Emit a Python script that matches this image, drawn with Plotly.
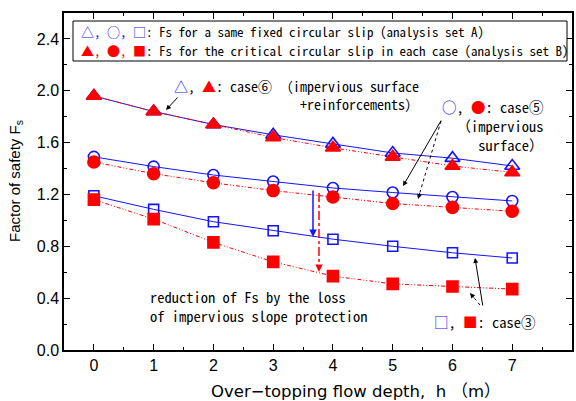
import math
import plotly.graph_objects as go

# ---------------- data ----------------
h = [0, 1, 2, 3, 4, 5, 6, 7]
case6_A = [1.96, 1.84, 1.74, 1.66, 1.59, 1.52, 1.48, 1.42]
case6_B = [1.96, 1.84, 1.74, 1.64, 1.56, 1.49, 1.42, 1.37]
case5_A = [1.49, 1.415, 1.35, 1.30, 1.25, 1.215, 1.18, 1.15]
case5_B = [1.45, 1.36, 1.29, 1.23, 1.18, 1.13, 1.10, 1.07]
case3_A = [1.19, 1.085, 0.99, 0.92, 0.855, 0.80, 0.75, 0.71]
case3_B = [1.16, 1.01, 0.83, 0.68, 0.57, 0.51, 0.49, 0.47]

x_ticks = [0, 1, 2, 3, 4, 5, 6, 7, 8]
y_ticks = [0.0, 0.4, 0.8, 1.2, 1.6, 2.0, 2.4]

BLUE = "rgb(20,20,255)"
RED = "rgb(255,0,0)"
JP = "Noto Sans Mono CJK JP, Noto Sans CJK JP"
AR = "Liberation Sans"

W, H = 576, 401
L, R, T, B = 64, 4, 13, 51
PW, PH = W - L - R, H - T - B


def px(x):
    return (x - L) / PW


def py(y):
    return (H - B - y) / PH


fig = go.Figure()

DASH_B = "4px,2px,1px,2px,1px,2px"
series = [
    (case6_A, "triangle-up-open", 13, BLUE, "solid"),
    (case5_A, "circle-open", 11, BLUE, "solid"),
    (case3_A, "square-open", 10, BLUE, "solid"),
    (case6_B, "triangle-up", 13, RED, DASH_B),
    (case5_B, "circle", 12, RED, DASH_B),
    (case3_B, "square", 11, RED, DASH_B),
]
for ys, sym, sz, col, dash in series:
    fig.add_trace(go.Scatter(
        x=h, y=ys, mode="lines+markers",
        line=dict(color=col, width=1, dash=dash),
        marker=dict(symbol=sym, size=sz, color=col,
                    line=dict(color=col, width=1.6)),
        showlegend=False, cliponaxis=False,
    ))

ann = []
shapes = []


def text(x, y, s, size=14, xanchor="left", align="left", font=JP):
    ann.append(dict(xref="paper", yref="paper", x=px(x), y=py(y), text=s,
                    showarrow=False, xanchor=xanchor, yanchor="middle",
                    align=align, font=dict(family=font, size=size, color="black")))


def arrow(hx, hy, tx, ty, color="black", width=1, size=1.0):
    ann.append(dict(xref="paper", yref="paper", x=px(hx), y=py(hy), text="",
                    showarrow=True, ax=tx - hx, ay=ty - hy, axref="pixel", ayref="pixel",
                    arrowhead=2, arrowsize=size, arrowwidth=width, arrowcolor=color,
                    standoff=0, startstandoff=0))


def dashed_arrow(hx, hy, tx, ty, color="black", width=1, dash="dot"):
    d = math.hypot(tx - hx, ty - hy)
    k = 7 / d
    sx, sy = hx + (tx - hx) * k, hy + (ty - hy) * k
    shapes.append(dict(type="line", xref="paper", yref="paper",
                       x0=px(tx), y0=py(ty), x1=px(sx), y1=py(sy),
                       line=dict(color=color, width=width, dash=dash)))
    arrow(hx, hy, hx + (tx - hx) * 8 / d, hy + (ty - hy) * 8 / d, color, width)


def b(s):
    return f"<span style='color:{BLUE}'>{s}</span>"


def r(s):
    return f"<span style='color:{RED}'>{s}</span>"


# legend box
shapes.append(dict(type="rect", xref="paper", yref="paper",
                   x0=px(73), x1=px(567), y0=py(61), y1=py(21),
                   line=dict(color="black", width=1), fillcolor="white"))
text(79, 32, b("△, ○, □") + ": Fs for a same fixed circular slip (analysis set A)", size=13)
text(79, 50, r("▲, ●, ■") + ": Fs for the critical circular slip in each case (analysis set B)", size=13)

# case 6
text(421, 95, b("△") + ", " + r("▲") + ": case⑥ （impervious surface<br>+reinforcements）",
     size=14, xanchor="right", align="right")
arrow(166, 110, 179, 96)

# case 5
text(546, 125, b("○") + ", " + r("●") + ": case⑤<br>（impervious<br>surface）",
     size=14.5, xanchor="right", align="right")
arrow(403, 186, 442, 119)
dashed_arrow(418, 199, 441, 121, dash="dot")

# case 3
text(432, 321, b("□") + ", " + r("■") + ": case③", size=14.5)
arrow(475, 258, 483, 307)
dashed_arrow(470, 293, 480, 305, dash="dot")

# reduction arrows + text
arrow(313, 237, 313, 189, color=BLUE, width=1.5)
dashed_arrow(319, 272, 319, 193, color=RED, width=1.5, dash="dashdot")
text(148, 306, "reduction of Fs by the loss<br>of impervious slope protection", size=14.5)

# axis titles
ann.append(dict(xref="paper", yref="paper", x=px(356), y=py(391),
                text="Over−topping flow depth,  h （m）", showarrow=False,
                xanchor="center", yanchor="middle",
                font=dict(family="DejaVu Sans, Noto Sans CJK JP", size=16.5, color="black")))
ann.append(dict(xref="paper", yref="paper", x=px(15), y=py(181),
                text="Factor of safety F<sub>s</sub>", showarrow=False, textangle=-90,
                xanchor="center", yanchor="middle",
                font=dict(family=AR, size=15, color="black")))

fig.update_layout(
    width=W, height=H,
    margin=dict(l=L, r=R, t=T, b=B),
    paper_bgcolor="white", plot_bgcolor="white",
    annotations=ann, shapes=shapes,
    xaxis=dict(range=[-0.5, 8], tickvals=x_ticks, ticktext=[str(v) for v in x_ticks],
               ticks="inside", ticklen=6, tickwidth=1, tickcolor="black",
               minor=dict(dtick=0.5, tick0=0, ticks="inside", ticklen=3, tickcolor="black"),
               showline=True, linecolor="black", linewidth=1.5, mirror="ticks",
               showgrid=False, zeroline=False, automargin=False,
               tickfont=dict(family=AR, size=16, color="black")),
    yaxis=dict(range=[0, 2.6], tickvals=y_ticks, ticktext=[f"{v:.1f}" for v in y_ticks],
               ticks="inside", ticklen=6, tickwidth=1, tickcolor="black",
               minor=dict(dtick=0.2, tick0=0, ticks="inside", ticklen=3, tickcolor="black"),
               showline=True, linecolor="black", linewidth=1.5, mirror="ticks",
               showgrid=False, zeroline=False, automargin=False,
               tickfont=dict(family=AR, size=16, color="black")),
)

fig.write_html("out.html", config={"displayModeBar": False},
               post_script="document.body.style.margin='0px';document.body.style.overflow='hidden';")
